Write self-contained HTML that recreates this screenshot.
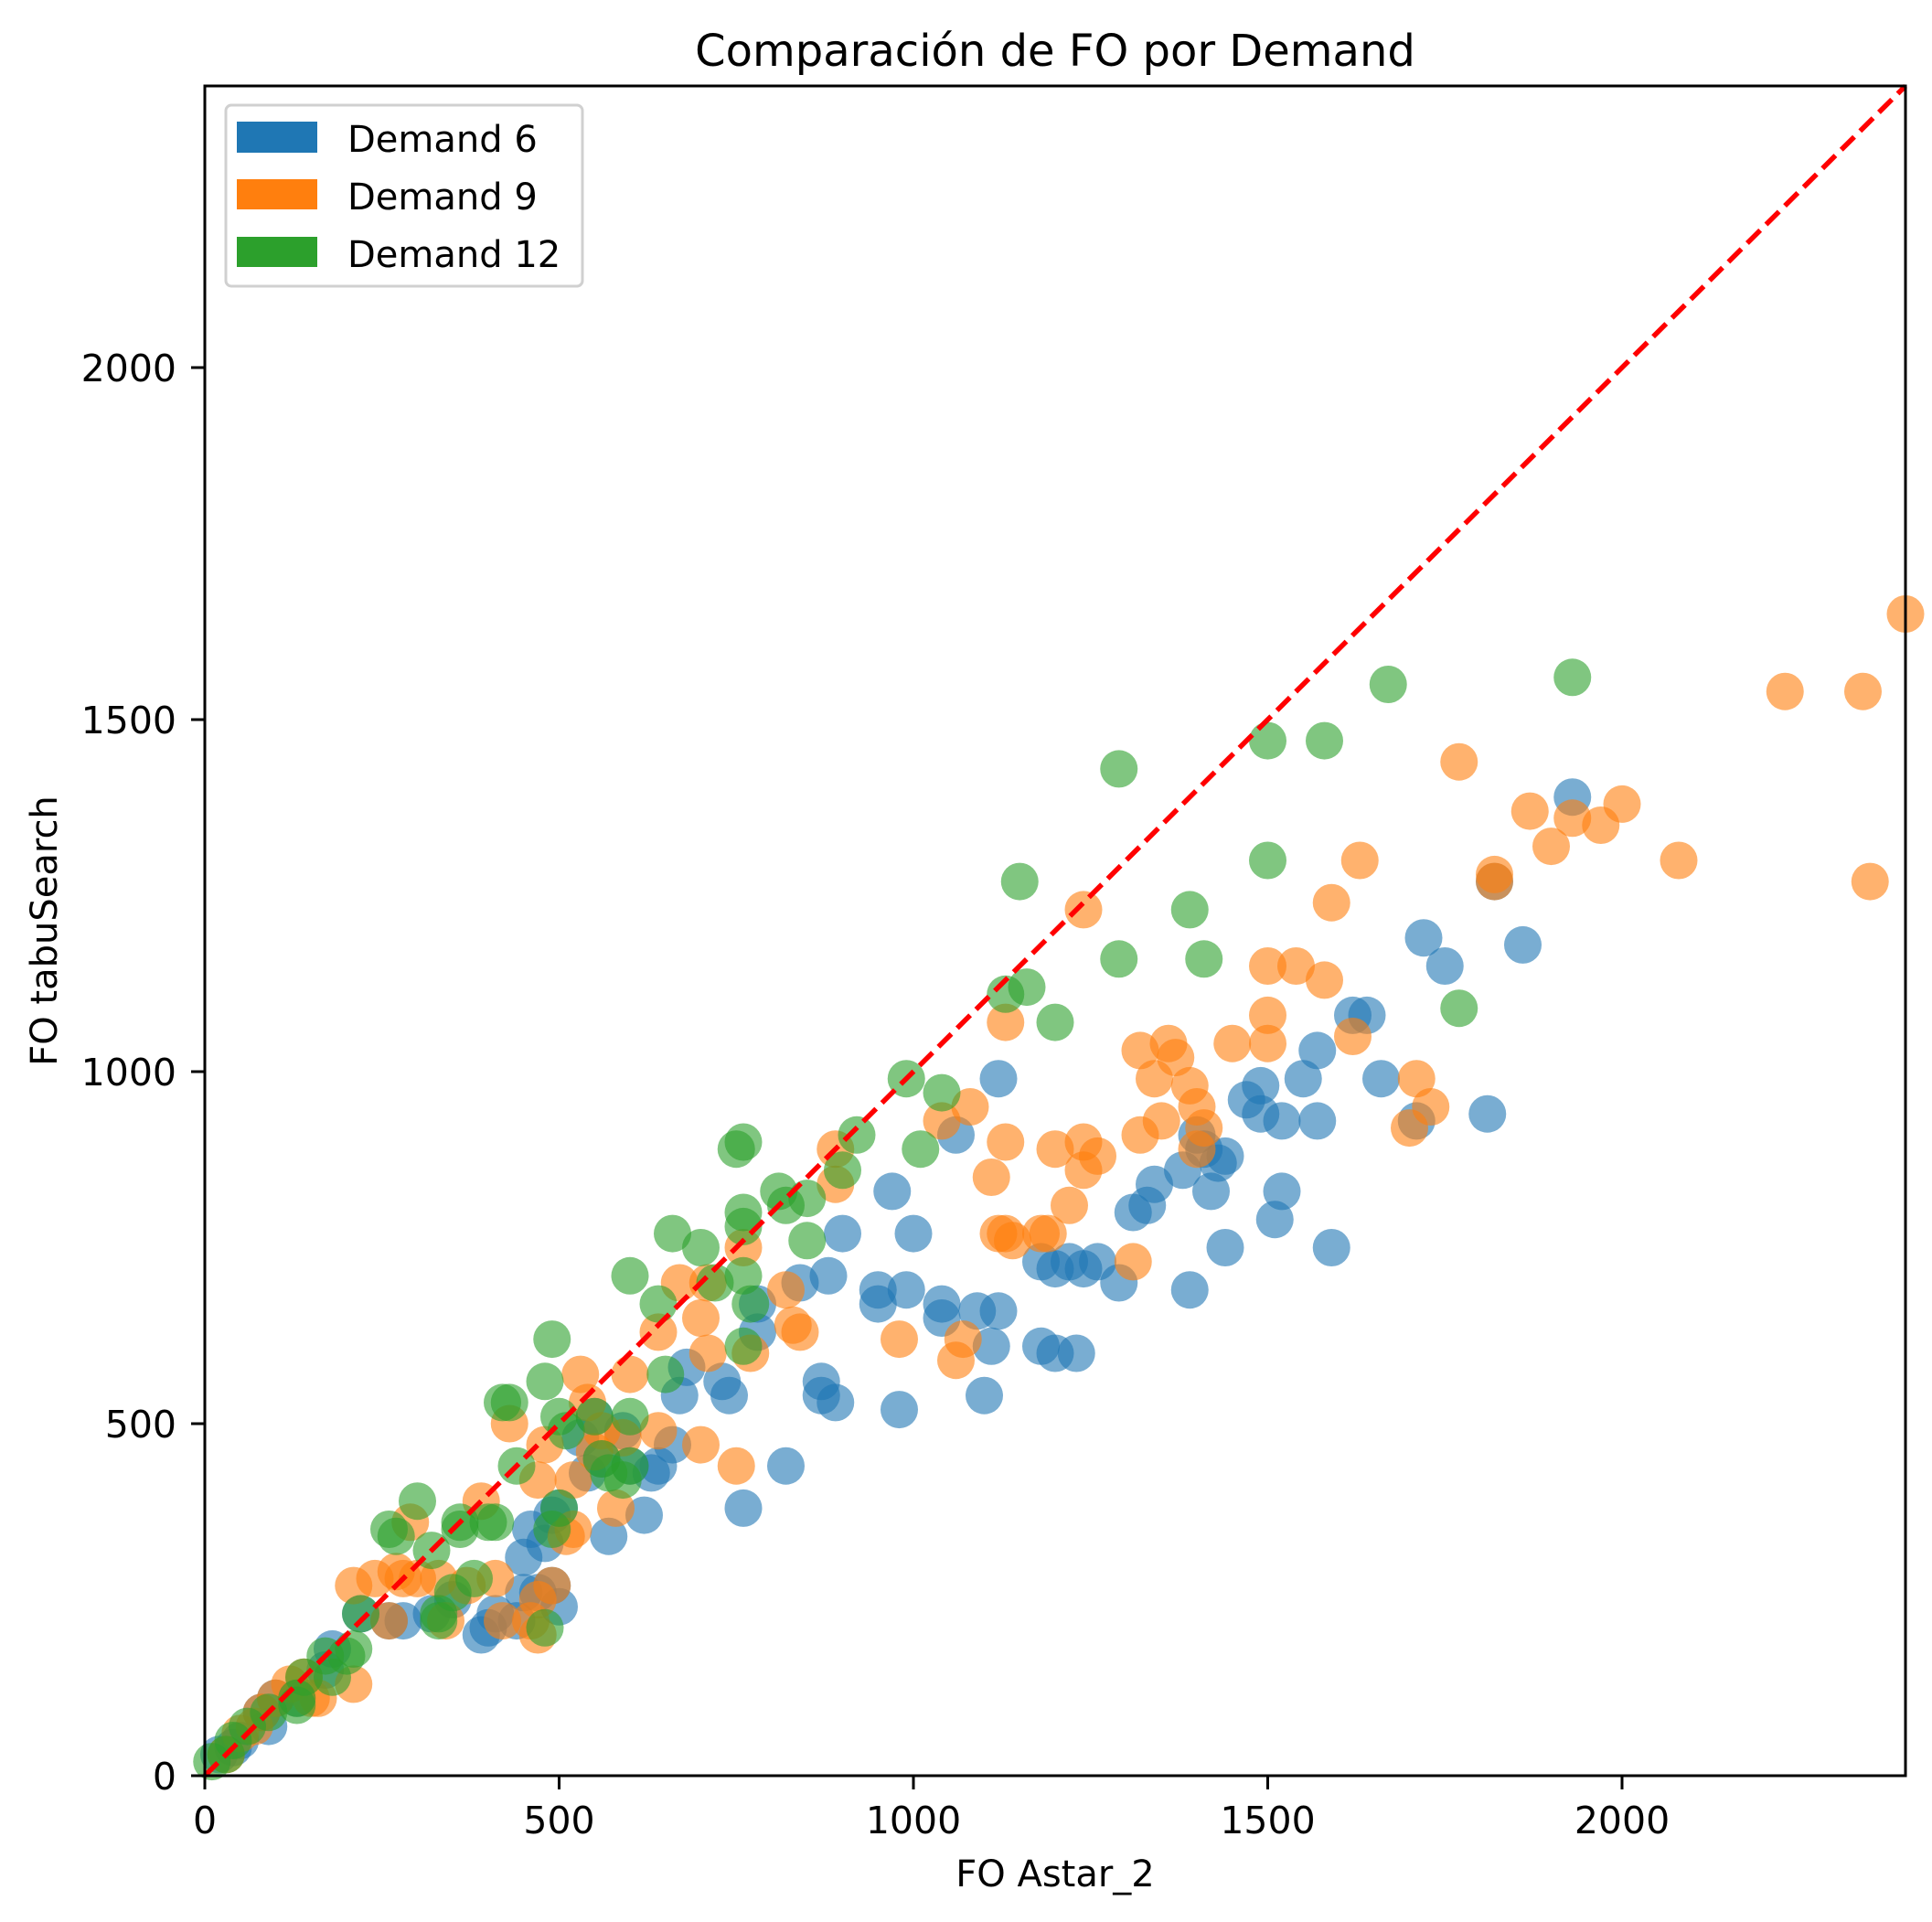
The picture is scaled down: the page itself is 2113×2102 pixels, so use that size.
<!DOCTYPE html>
<html><head><meta charset="utf-8"><style>
html,body{margin:0;padding:0;background:#fff}
svg{display:block}
text{font-family:"DejaVu Sans","Liberation Sans",sans-serif;fill:#000}
</style></head><body>
<svg id="chart" width="2113" height="2102" viewBox="0 0 2113 2102" xmlns="http://www.w3.org/2000/svg">
<rect width="2113" height="2102" fill="#fff"/>
<text x="1154" y="72" font-size="48" text-anchor="middle">Comparación de FO por Demand</text>
<g id="marks"></g>
<g id="axes"></g>
<text x="1154" y="2063" font-size="40" text-anchor="middle">FO Astar_2</text>
<text transform="translate(62,1018) rotate(-90)" font-size="40" text-anchor="middle">FO tabuSearch</text>
<g>
<rect x="247" y="115" width="390" height="198" rx="6" fill="#fff" fill-opacity="0.8" stroke="#d0d0d0" stroke-width="3"/>
<rect x="259" y="133" width="88" height="34" fill="#1f77b4"/>
<text x="380" y="166" font-size="40">Demand 6</text>
<rect x="259" y="196" width="88" height="33" fill="#ff7f0e"/>
<text x="380" y="229" font-size="40">Demand 9</text>
<rect x="259" y="259" width="88" height="33" fill="#2ca02c"/>
<text x="380" y="292" font-size="40">Demand 12</text>
</g>
</svg>
<script>
const xTicks=[0,500,1000,1500,2000];
const yTicks=[0,500,1000,1500,2000];
const blueX=[1930,1720,1750,1860,1820,1620,1640,1660,1710,1810,1570,1550,1490,1470,1490,1520,1570,1400,1410,1380,1340,1330,1310,1420,1440,1430,1520,1510,1590,1440,1390,1290,1260,1240,1220,1200,1180,1180,1200,1230,1120,1060,970,1000,900,950,990,1040,1040,1090,1120,1110,1100,980,950,880,840,780,780,730,740,670,680,660,640,630,600,620,590,550,560,540,530,820,760,870,870,890,570,500,490,480,460,450,490,470,500,450,440,410,400,390,350,320,260,280,220,180,170,130,100,90,80,50,40,20];
const blueY=[1390,1190,1150,1180,1270,1080,1080,990,930,940,1030,990,980,960,940,930,930,910,890,860,840,810,800,830,880,870,830,790,750,750,690,700,730,720,730,720,730,610,600,600,990,910,830,770,770,690,690,670,650,660,660,610,540,520,670,710,700,670,630,560,540,540,580,470,440,430,440,370,490,510,450,430,480,440,380,560,540,530,340,380,370,330,350,310,270,260,240,260,220,230,210,200,250,230,220,220,230,180,150,110,110,70,90,50,40,30];
const orangeX=[2400,2230,2340,2350,2080,2000,1970,1930,1900,1870,1770,1820,1820,1630,1590,1580,1540,1500,1500,1500,1450,1620,1710,1730,1700,1360,1370,1320,1340,1390,1400,1410,1400,1350,1320,1310,1240,1240,1260,1240,1220,1200,1130,1130,1080,1040,1110,1120,1130,1140,1180,1190,1070,1060,980,890,890,820,830,840,760,770,750,710,700,710,700,670,640,640,600,590,560,540,530,550,580,520,510,520,480,470,430,490,470,470,460,420,410,390,370,330,340,290,280,300,260,270,240,210,210,160,150,140,120,100,80,70,50,30];
const orangeY=[1650,1540,1540,1270,1300,1380,1350,1360,1320,1370,1440,1280,1270,1300,1240,1130,1150,1150,1080,1040,1040,1050,990,950,920,1040,1020,1030,990,980,950,920,890,930,910,730,1230,900,880,860,810,890,1070,900,950,930,850,770,770,760,770,770,620,590,620,840,890,690,640,630,750,600,440,700,650,600,470,700,630,490,570,480,490,530,570,460,380,420,340,350,470,420,500,270,250,200,220,220,280,390,270,280,220,360,280,280,220,290,280,270,130,110,110,140,130,110,90,70,60,30];
const greenX=[1930,1670,1580,1500,1290,1500,1150,1390,1290,1410,1770,1160,1130,1200,990,1040,1010,920,900,760,750,810,820,760,760,850,850,700,660,760,770,760,720,600,640,650,490,480,420,430,440,500,510,550,560,570,600,600,590,490,500,300,270,260,360,360,400,410,320,330,330,380,350,480,220,200,210,170,180,140,130,130,90,60,40,30,10];
const greenY=[1560,1550,1470,1470,1430,1300,1270,1230,1160,1160,1090,1120,1110,1070,990,970,890,910,860,900,890,830,810,800,780,820,760,750,770,710,670,610,700,710,670,570,620,560,530,530,440,510,490,510,450,430,510,440,420,350,380,390,340,350,360,350,360,360,320,230,220,280,260,210,230,170,180,170,140,140,110,100,90,70,50,30,20];

const X0=224,X1=2084,Y0=1942,Y1=94,XMAX=2400,YMAX=2400;
const sx=v=>X0+(X1-X0)*v/XMAX;
const sy=v=>Y0-(Y0-Y1)*v/YMAX;
const NS="http://www.w3.org/2000/svg";
const marks=document.getElementById('marks');
const axes=document.getElementById('axes');
function series(xs,ys,color,name){
  const g=document.createElementNS(NS,'g');
  
  
  for(let i=0;i<xs.length;i++){
    const c=document.createElementNS(NS,'circle');
    c.setAttribute('cx',sx(xs[i]));c.setAttribute('cy',sy(ys[i]));
    c.setAttribute('r',20.5);c.setAttribute('fill',color);c.setAttribute('fill-opacity',0.6);
    
    
    g.appendChild(c);
  }
  marks.appendChild(g);
}
series(blueX,blueY,'#1f77b4','series-demand-6');
series(orangeX,orangeY,'#ff7f0e','series-demand-9');
series(greenX,greenY,'#2ca02c','series-demand-12');
const ln=document.createElementNS(NS,'line');
ln.setAttribute('x1',sx(0));ln.setAttribute('y1',sy(0));
ln.setAttribute('x2',sx(XMAX));ln.setAttribute('y2',sy(YMAX));
ln.setAttribute('stroke','#ff0000');ln.setAttribute('stroke-width',5.5);
ln.setAttribute('stroke-dasharray','20,9');


marks.appendChild(ln);
const frame=document.createElementNS(NS,'rect');
frame.setAttribute('x',X0);frame.setAttribute('y',Y1);
frame.setAttribute('width',X1-X0);frame.setAttribute('height',Y0-Y1);
frame.setAttribute('fill','none');frame.setAttribute('stroke','#000');frame.setAttribute('stroke-width',3);


axes.appendChild(frame);
xTicks.forEach(t=>{
  const l=document.createElementNS(NS,'line');
  l.setAttribute('x1',sx(t));l.setAttribute('x2',sx(t));l.setAttribute('y1',Y0);l.setAttribute('y2',Y0+15);
  l.setAttribute('stroke','#000');l.setAttribute('stroke-width',3);
  
  
  axes.appendChild(l);
  const tx=document.createElementNS(NS,'text');
  tx.setAttribute('x',sx(t));tx.setAttribute('y',Y0+63);tx.setAttribute('font-size',41);tx.setAttribute('text-anchor','middle');
  tx.textContent=t;
  
  
  axes.appendChild(tx);
});
yTicks.forEach(t=>{
  const l=document.createElementNS(NS,'line');
  l.setAttribute('x1',X0-15);l.setAttribute('x2',X0);l.setAttribute('y1',sy(t));l.setAttribute('y2',sy(t));
  l.setAttribute('stroke','#000');l.setAttribute('stroke-width',3);
  
  
  axes.appendChild(l);
  const tx=document.createElementNS(NS,'text');
  tx.setAttribute('x',X0-31);tx.setAttribute('y',sy(t)+15);tx.setAttribute('font-size',41);tx.setAttribute('text-anchor','end');
  tx.textContent=t;
  
  
  axes.appendChild(tx);
});
</script>
</body></html>
